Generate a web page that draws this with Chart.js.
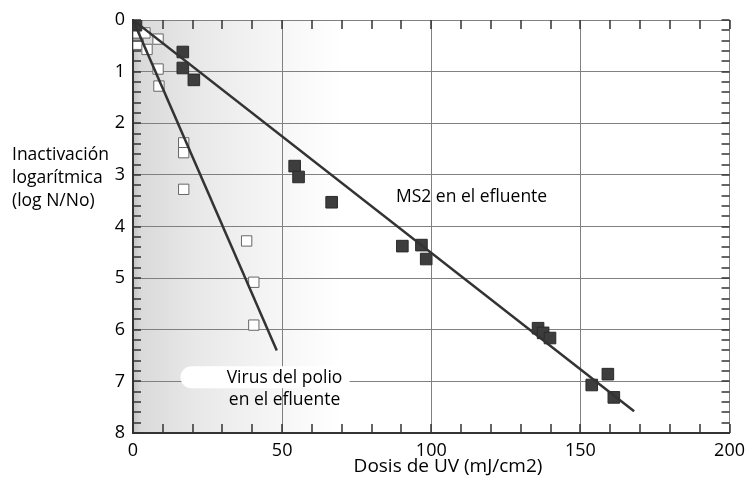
<!DOCTYPE html>
<html>
<head>
<meta charset="utf-8">
<style>
  html, body { margin: 0; padding: 0; background: #fff; }
  #wrap { width: 752px; height: 481px; }
</style>
</head>
<body>
<div id="wrap"><canvas id="chart" width="752" height="481"></canvas></div>
<script src="https://cdn.jsdelivr.net/npm/chart.js"></script>
<script>
// MS2 en el efluente (filled squares)
const ms2Dose = [1, 16.7, 16.7, 20.4, 54.2, 55.5, 66.6, 90.3, 96.7, 98.3, 135.8, 137.5, 139.8, 153.8, 159.2, 161.2];
const ms2Log  = [0.1, 0.62, 0.93, 1.16, 2.83, 3.04, 3.53, 4.38, 4.36, 4.63, 5.97, 6.06, 6.16, 7.07, 6.86, 7.31];
// Virus del polio en el efluente (open squares)
const polioDose = [1.7, 4.0, 8.4, 1.7, 4.7, 8.4, 8.7, 17, 17, 17, 38.1, 40.5, 40.5];
const polioLog  = [0.25, 0.25, 0.37, 0.47, 0.57, 0.95, 1.28, 2.38, 2.57, 3.28, 4.28, 5.08, 5.91];
// fitted lines
const ms2FitDose = [0, 168];
const ms2FitLog = [0, 7.58];
const polioFitDose = [0, 48.2];
const polioFitLog = [0, 6.4];
// axes
const xTicks = [0, 50, 100, 150, 200];
const yTicks = [0, 1, 2, 3, 4, 5, 6, 7, 8];
const yTitle = ['Inactivación', 'logarítmica', '(log N/No)'];
const xTitle = 'Dosis de UV (mJ/cm2)';

const pts = (xs, ys) => xs.map((x, i) => ({ x: x, y: ys[i] }));
const FONT = '"Open Sans", "DejaVu Sans", sans-serif';

const figurePlugin = {
  id: 'figure',
  beforeDraw(chart) {
    const c = chart.ctx, a = chart.chartArea;
    c.save();
    c.fillStyle = '#fff';
    c.fillRect(0, 0, chart.width, chart.height);
    // scan shadow on the left side
    const g = c.createLinearGradient(a.left, 0, a.left + 210, 0);
    g.addColorStop(0, 'rgb(196,196,196)');
    g.addColorStop(0.04, 'rgb(218,218,218)');
    g.addColorStop(0.3, 'rgb(232,232,232)');
    g.addColorStop(0.6, 'rgb(243,243,243)');
    g.addColorStop(0.85, 'rgb(251,251,251)');
    g.addColorStop(1, 'rgb(255,255,255)');
    c.fillStyle = g;
    c.fillRect(a.left, a.top, 210, a.bottom - a.top);
    c.restore();
  },
  afterDraw(chart) {
    const c = chart.ctx;
    const xs = chart.scales.x, ys = chart.scales.y;
    const L = xs.left, R = xs.right, T = ys.top, B = ys.bottom;
    c.save();
    // minor ticks, pointing inward
    c.strokeStyle = '#333';
    c.lineWidth = 1.5;
    for (let i = 0; i <= 40; i++) {
      const py = Math.round(ys.getPixelForValue(i * 0.2));
      c.beginPath();
      c.moveTo(L, py);
      c.lineTo(L + 8, py);
      c.moveTo(R, py);
      c.lineTo(R - 8, py);
      c.stroke();
    }
    for (let v = 0; v <= 200; v += 10) {
      const px = Math.round(xs.getPixelForValue(v));
      c.beginPath();
      c.moveTo(px, B);
      c.lineTo(px, B - 9);
      c.moveTo(px, T);
      c.lineTo(px, T + 9);
      c.stroke();
    }

    // white patch behind the polio label
    const lx = xs.getPixelForValue(50.8);
    const l1 = ys.getPixelForValue(6.94), l2 = ys.getPixelForValue(7.36);
    c.fillStyle = '#fff';
    c.beginPath();
    c.roundRect(lx - 104, l1 - 12, 170, 22, 11);
    c.fill();

    // series labels
    c.fillStyle = '#000';
    c.font = '17.5px ' + FONT;
    c.textAlign = 'center';
    c.textBaseline = 'middle';
    c.fillText('MS2 en el efluente', xs.getPixelForValue(113.5), ys.getPixelForValue(3.43));
    c.fillText('Virus del polio', lx, l1);
    c.fillText('en el efluente', lx, l2);

    // axis titles
    c.font = '19px ' + FONT;
    c.fillText(xTitle, 448, 467);
    c.font = '17.5px ' + FONT;
    c.textAlign = 'left';
    yTitle.forEach((t, i) => c.fillText(t, 12, 155 + i * 23));
    c.restore();
  }
};

new Chart(document.getElementById('chart'), {
  type: 'scatter',
  data: {
    datasets: [
      {
        label: 'MS2 ajuste',
        type: 'line',
        data: pts(ms2FitDose, ms2FitLog),
        borderColor: '#333',
        borderWidth: 2.5,
        pointRadius: 0,
        fill: false
      },
      {
        label: 'Polio ajuste',
        type: 'line',
        data: pts(polioFitDose, polioFitLog),
        borderColor: '#333',
        borderWidth: 2.5,
        pointRadius: 0,
        fill: false
      },
      {
        label: 'MS2 en el efluente',
        data: pts(ms2Dose, ms2Log),
        pointStyle: 'rect',
        pointRadius: 8.2,
        backgroundColor: '#3d3d3d',
        borderColor: '#2a2a2a',
        borderWidth: 1
      },
      {
        label: 'Virus del polio en el efluente',
        data: pts(polioDose, polioLog),
        pointStyle: 'rect',
        pointRadius: 7.3,
        backgroundColor: '#fff',
        borderColor: '#666',
        borderWidth: 1
      }
    ]
  },
  options: {
    responsive: false,
    animation: false,
    layout: { padding: { top: 20, right: 21, left: 0, bottom: 0 } },
    plugins: {
      legend: { display: false },
      tooltip: { enabled: false }
    },
    scales: {
      x: {
        type: 'linear',
        min: 0,
        max: 200,
        afterBuildTicks: s => { s.ticks = xTicks.map(v => ({ value: v })); },
        afterFit: s => { s.height = 48; },
        ticks: {
          color: '#000',
          font: { family: FONT, size: 18 },
          padding: 7
        },
        grid: {
          color: '#808080',
          lineWidth: 1,
          drawTicks: false
        },
        border: { color: '#333', width: 2 }
      },
      y: {
        type: 'linear',
        reverse: true,
        min: 0,
        max: 8,
        afterBuildTicks: s => { s.ticks = yTicks.map(v => ({ value: v })); },
        afterFit: s => { s.width = 133; },
        ticks: {
          color: '#000',
          font: { family: FONT, size: 18 },
          padding: 8
        },
        grid: {
          color: '#808080',
          lineWidth: 1,
          drawTicks: false
        },
        border: { color: '#333', width: 2 }
      }
    }
  },
  plugins: [figurePlugin]
});
</script>
</body>
</html>
